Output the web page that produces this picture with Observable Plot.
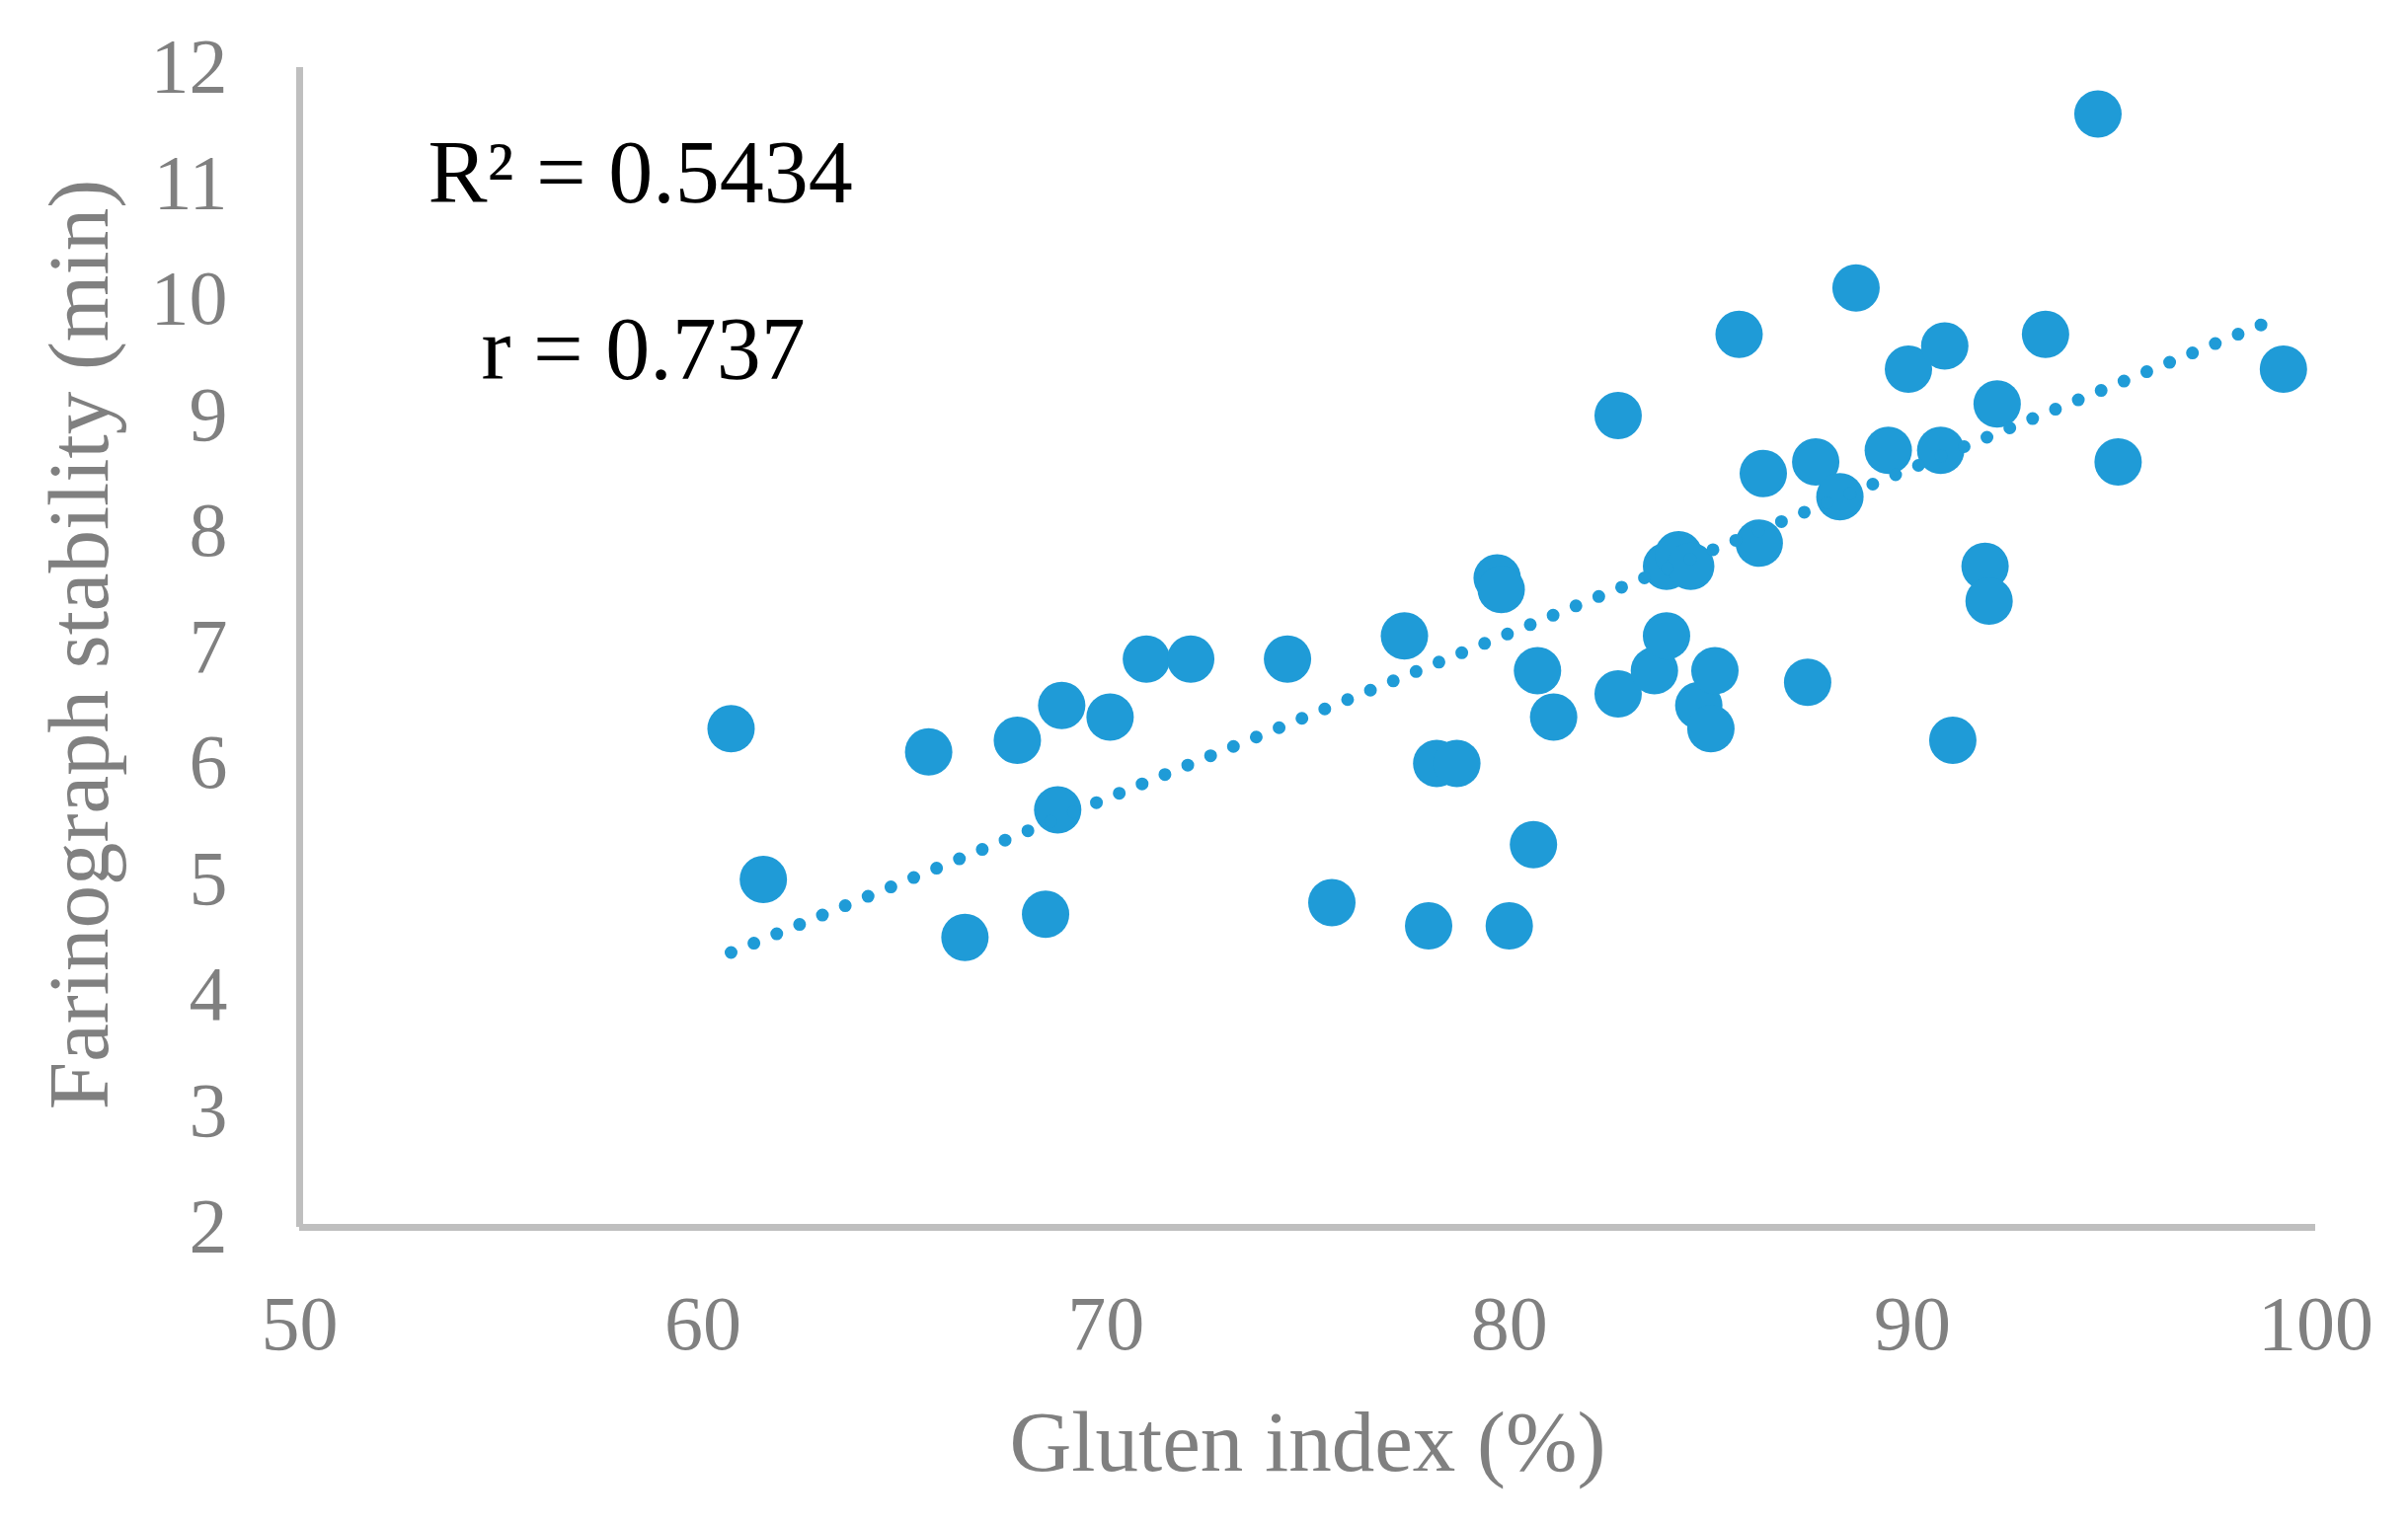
<!DOCTYPE html>
<html>
<head>
<meta charset="utf-8">
<script src="https://cdn.jsdelivr.net/npm/d3@7"></script>
<script src="https://cdn.jsdelivr.net/npm/@observablehq/plot@0.6"></script>
<style>
  html, body { margin: 0; padding: 0; background: #fff; }
  #chart { width: 2439px; height: 1543px; }
</style>
</head>
<body>
<div id="chart"></div>
<script>
// Gluten index (%) of each sample
const gluten = [60.7, 61.5, 65.6, 66.5, 67.8, 68.5, 68.8, 68.9, 70.1, 71.0,
                72.1, 74.5, 75.6, 77.4, 78.0, 78.2, 78.7, 79.7, 79.8, 80.0,
                80.6, 80.7, 81.1, 82.7, 82.7, 83.6, 83.9, 83.9, 84.2, 84.5,
                84.7, 85.0, 85.1, 85.7, 86.3, 86.2, 87.4, 87.6, 88.2, 88.6,
                89.4, 89.9, 90.7, 90.8, 91.0, 91.8, 91.9, 92.1, 93.3, 94.6,
                95.1, 99.2];
// Farinograph stability (min) of each sample
const stability = [6.3, 5.0, 6.1, 4.5, 6.2, 4.7, 5.6, 6.5, 6.4, 6.9,
                   6.9, 6.9, 4.8, 7.1, 4.6, 6.0, 6.0, 7.6, 7.5, 4.6,
                   5.3, 6.8, 6.4, 9.0, 6.6, 6.8, 7.1, 7.7, 7.8, 7.7,
                   6.5, 6.3, 6.8, 9.7, 8.5, 7.9, 6.7, 8.6, 8.3, 10.1,
                   8.7, 9.4, 8.7, 9.6, 6.2, 7.7, 7.4, 9.1, 9.7, 11.6,
                   8.6, 9.4];
// Linear trend line (ends)
const trendX = [60.7, 98.7];
const trendY = [4.37, 9.79];
const xTicks = [50, 60, 70, 80, 90, 100];
const yTicks = [2, 3, 4, 5, 6, 7, 8, 9, 10, 11, 12];
const xTitle = "Gluten index (%)";
const yTitle = "Farinograph stability (min)";
const annotations = ["R² = 0.5434", "r = 0.737"];

const data = gluten.map((g, i) => ({gluten: g, stability: stability[i]}));
const trend = trendX.map((x, i) => ({x, y: trendY[i]}));

const blue = "#1F9BD7";
const gray = "#808080";
const axisGray = "#BFBFBF";

const chart = Plot.plot({
  width: 2439,
  height: 1543,
  marginLeft: 303,
  marginRight: 94,
  marginTop: 68,
  marginBottom: 300,
  style: {fontFamily: "'Liberation Serif', 'Times New Roman', serif", background: "#fff"},
  x: {domain: [50, 100]},
  y: {domain: [2, 12]},
  marks: [
    Plot.axisY({ticks: yTicks, tickSize: 0, tickPadding: 73, fontSize: 78, fill: gray, label: null}),
    Plot.axisX({ticks: xTicks, tickSize: 0, tickPadding: 68, fontSize: 78, fill: gray, label: null}),
    Plot.ruleX([50], {stroke: axisGray, strokeWidth: 7, y1: 2, y2: 12}),
    Plot.ruleY([2], {stroke: axisGray, strokeWidth: 7, x1: 50, x2: 100}),
    Plot.dot(data, {x: "gluten", y: "stability", r: 24, fill: blue, stroke: "none"}),
    Plot.line(trend, {x: "x", y: "y", stroke: blue, strokeWidth: 13,
      strokeDasharray: "0 25", strokeLinecap: "round"}),
    Plot.text([annotations[0]], {frameAnchor: "top-left", dx: 130, dy: 108, textAnchor: "start",
      lineAnchor: "middle", fontSize: 90, fill: "#000"}),
    Plot.text([annotations[1]], {frameAnchor: "top-left", dx: 184, dy: 287, textAnchor: "start",
      lineAnchor: "middle", fontSize: 90, fill: "#000"}),
    Plot.text([xTitle], {frameAnchor: "bottom", dy: 219, textAnchor: "middle", lineAnchor: "middle", fontSize: 87, fill: gray}),
    Plot.text([yTitle], {frameAnchor: "left", dx: -222, dy: -3, rotate: -90, textAnchor: "middle", lineAnchor: "middle", fontSize: 87, fill: gray})
  ]
});
document.getElementById("chart").appendChild(chart);
</script>
</body>
</html>
